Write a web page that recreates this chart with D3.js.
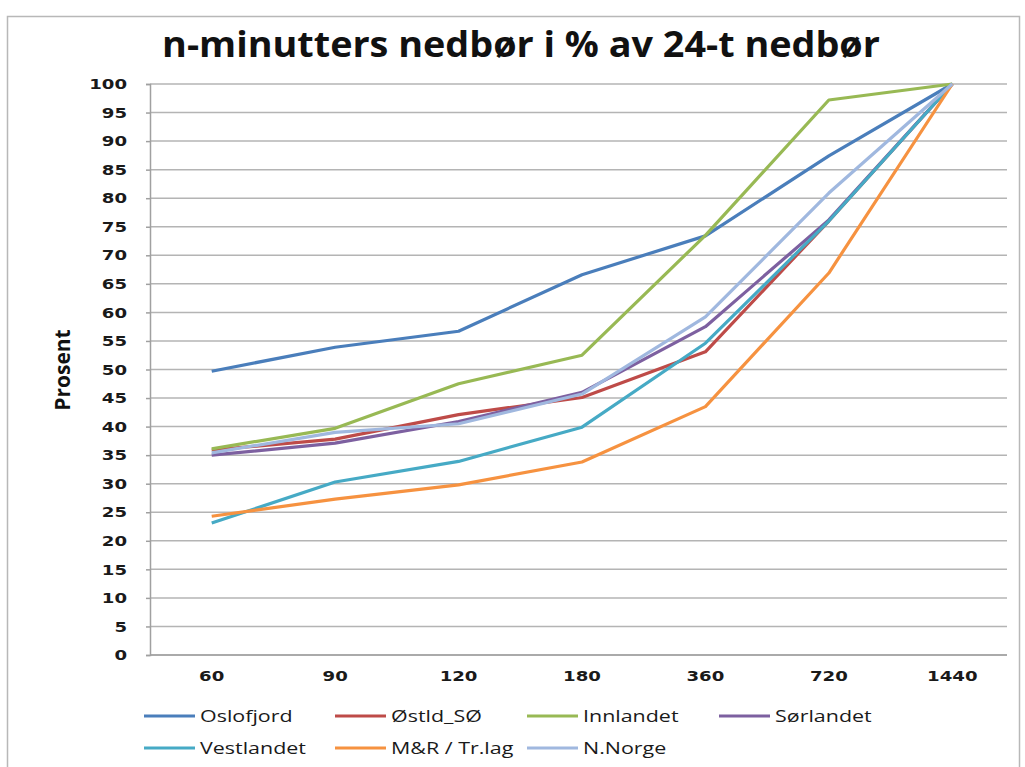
<!DOCTYPE html>
<html>
<head>
<meta charset="utf-8">
<script src="https://cdn.jsdelivr.net/npm/d3@7"></script>
<style>
  html, body { margin: 0; padding: 0; background: #fff; }
  svg { display: block; }
</style>
</head>
<body>
<svg id="chart" width="1025" height="767"></svg>
<script>
// Duration categories (minutes)
const categories = ["60", "90", "120", "180", "360", "720", "1440"];

// Share of 24-hour precipitation (%) per region
const oslofjord   = [49.7, 53.9, 56.7, 66.6, 73.4, 87.4, 100];
const ostldSO     = [35.9, 37.8, 42.1, 45.1, 53.1, 76.0, 100];
const innlandet   = [36.1, 39.7, 47.5, 52.5, 73.5, 97.2, 100];
const sorlandet   = [35.0, 37.1, 40.9, 46.0, 57.5, 76.2, 100];
const vestlandet  = [23.1, 30.3, 33.9, 39.9, 54.6, 76.0, 100];
const mrTrlag     = [24.3, 27.3, 29.8, 33.8, 43.5, 66.9, 100];
const nNorge      = [35.4, 39.0, 40.5, 45.7, 59.2, 80.9, 100];

const seriesNames = ["Oslofjord", "Østld_SØ", "Innlandet", "Sørlandet", "Vestlandet", "M&R / Tr.lag", "N.Norge"];
const seriesValues = [oslofjord, ostldSO, innlandet, sorlandet, vestlandet, mrTrlag, nNorge];
const seriesColors = ["#4A7EBB", "#BE4B48", "#98B954", "#7D60A0", "#46AAC5", "#F69240", "#A0B8DF"];

const yTicks = d3.range(0, 101, 5);

// horizontal stretch applied to the text glyphs
const stretch = 1.25;

const svg = d3.select("#chart");

// outer chart frame
svg.append("rect")
  .attr("x", 7.5).attr("y", 16.5)
  .attr("width", 1012).attr("height", 760)
  .attr("fill", "none").attr("stroke", "#B8B8B8").attr("stroke-width", 1.5);

const plot = { left: 150, right: 1014, top: 84, bottom: 655 };

const x = d3.scaleBand().domain(categories).range([plot.left, plot.right]);
const y = d3.scaleLinear().domain([0, 100]).range([plot.bottom, plot.top]);

// horizontal gridlines
svg.append("g")
  .selectAll("line")
  .data(yTicks)
  .join("line")
  .attr("x1", plot.left).attr("x2", 1007)
  .attr("y1", d => y(d)).attr("y2", d => y(d))
  .attr("stroke", "#B4B4B4").attr("stroke-width", 1.5);

function styleTickText(sel) {
  sel.attr("font-family", "DejaVu Sans")
    .attr("font-size", 14.5).attr("font-weight", "bold")
    .attr("fill", "#1a1a1a")
    .each(function () {
      const t = d3.select(this);
      const tx = +t.attr("x") || 0;
      const ty = +t.attr("y") || 0;
      t.attr("x", 0).attr("y", 0)
        .attr("transform", `translate(${tx},${ty}) scale(${stretch},1)`);
    });
}

// y axis
const yAxis = svg.append("g")
  .attr("transform", `translate(${plot.left},0)`)
  .call(d3.axisLeft(y).tickValues(yTicks).tickSize(4).tickPadding(19));
yAxis.select(".domain").attr("stroke", "#A0A0A0").attr("stroke-width", 1.5);
yAxis.selectAll(".tick line").attr("stroke", "#A0A0A0").attr("stroke-width", 1.5);
yAxis.selectAll("text").call(styleTickText);

// x axis labels
const xAxis = svg.append("g")
  .attr("transform", `translate(0,${plot.bottom})`)
  .call(d3.axisBottom(x).tickSize(0).tickPadding(16));
xAxis.select(".domain").remove();
xAxis.selectAll("text").call(styleTickText);

// bottom axis line
svg.append("line")
  .attr("x1", plot.left).attr("x2", 1007)
  .attr("y1", plot.bottom).attr("y2", plot.bottom)
  .attr("stroke", "#A0A0A0").attr("stroke-width", 1.5);

// series lines
const line = d3.line()
  .x((d, i) => x(categories[i]) + x.bandwidth() / 2)
  .y(d => y(d));

svg.append("g")
  .selectAll("path")
  .data(seriesValues)
  .join("path")
  .attr("d", d => line(d))
  .attr("fill", "none")
  .attr("stroke", (d, i) => seriesColors[i])
  .attr("stroke-width", 3.2)
  .attr("stroke-linejoin", "round");

// title
svg.append("text")
  .attr("transform", `translate(521,57) scale(1.08,1)`)
  .attr("text-anchor", "middle")
  .attr("font-family", "Open Sans")
  .attr("font-weight", "bold")
  .attr("font-size", 35)
  .attr("fill", "#111")
  .text("n-minutters nedbør i % av 24-t nedbør");

// y axis title
svg.append("text")
  .attr("transform", "translate(70,370) rotate(-90)")
  .attr("text-anchor", "middle")
  .attr("font-family", "Open Sans")
  .attr("font-weight", "bold")
  .attr("font-size", 21)
  .attr("fill", "#111")
  .text("Prosent");

// legend
const legendCols = [144, 335, 527, 719];
const legendRows = [716, 748];
const legend = svg.append("g")
  .selectAll("g")
  .data(seriesNames)
  .join("g")
  .attr("transform", (d, i) => `translate(${legendCols[i % 4]},${legendRows[Math.floor(i / 4)]})`);
legend.append("line")
  .attr("x1", 0).attr("x2", 51)
  .attr("y1", 0).attr("y2", 0)
  .attr("stroke", (d, i) => seriesColors[i])
  .attr("stroke-width", 3.2);
legend.append("text")
  .attr("transform", `translate(56,6) scale(1.3,1)`)
  .attr("font-family", "Open Sans")
  .attr("font-size", 16.5)
  .attr("fill", "#1a1a1a")
  .text(d => d);
</script>
</body>
</html>
